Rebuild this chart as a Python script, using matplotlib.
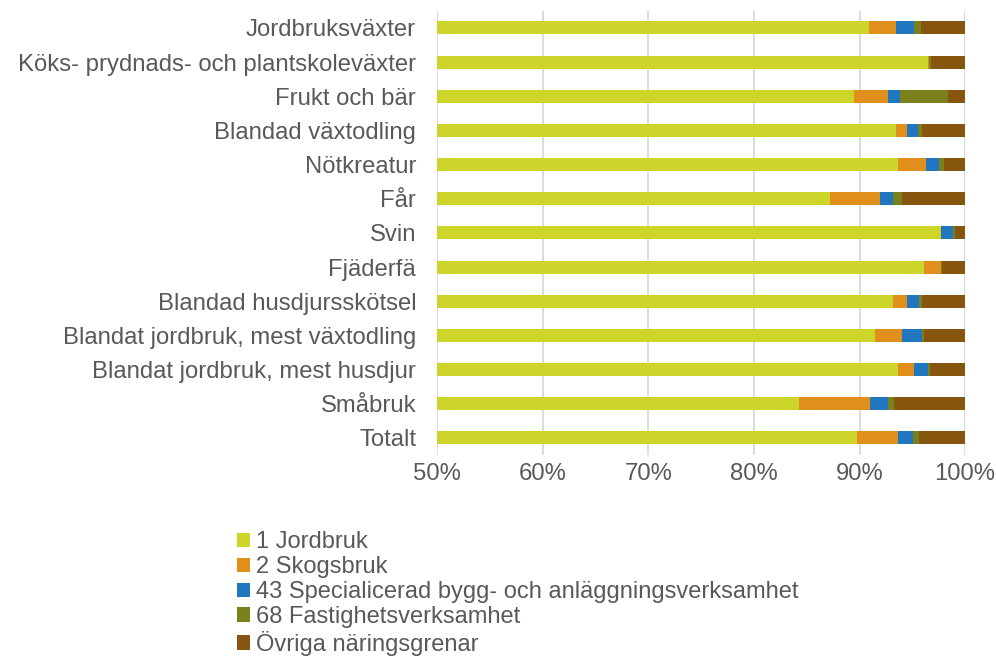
import numpy as np
import matplotlib
matplotlib.use("Agg")
import matplotlib.pyplot as plt
from matplotlib.patches import Patch

plt.rcParams["font.family"] = ["Liberation Sans", "DejaVu Sans"]

categories = ["Jordbruksväxter", "Köks- prydnads- och plantskoleväxter", "Frukt och bär",
              "Blandad växtodling", "Nötkreatur", "Får", "Svin", "Fjäderfä",
              "Blandad husdjursskötsel", "Blandat jordbruk, mest växtodling",
              "Blandat jordbruk, mest husdjur", "Småbruk", "Totalt"]
series_names = ["1 Jordbruk", "2 Skogsbruk", "43 Specialicerad bygg- och anläggningsverksamhet",
                "68 Fastighetsverksamhet", "Övriga näringsgrenar"]

jordbruk = [90.9, 96.5, 89.5, 93.5, 93.6, 87.2, 97.7, 96.1, 93.2, 91.5, 93.6, 84.3, 89.8]
skogsbruk = [2.6, 0.05, 3.2, 1.0, 2.7, 4.7, 0.05, 1.6, 1.3, 2.5, 1.6, 6.7, 3.8]
bygg = [1.7, 0.05, 1.1, 1.0, 1.2, 1.3, 1.1, 0.05, 1.1, 1.9, 1.3, 1.7, 1.5]
fastighet = [0.6, 0.2, 4.6, 0.4, 0.5, 0.8, 0.2, 0.05, 0.3, 0.2, 0.2, 0.6, 0.5]
ovriga = [4.2, 3.2, 1.6, 4.1, 2.0, 6.0, 1.0, 2.2, 4.1, 3.9, 3.3, 6.7, 4.4]

colors = ["#CDD42A", "#E08F1C", "#2176C0", "#7A811C", "#86550E"]
text_color = "#595959"

fig = plt.figure(figsize=(9.96, 6.61), dpi=100)
ax = fig.add_axes([0.4388, 0.3116, 0.5302, 0.672])

y = np.arange(len(categories))
left = np.zeros(len(categories))
for vals, col, name in zip([jordbruk, skogsbruk, bygg, fastighet, ovriga], colors, series_names):
    v = np.array(vals)
    ax.barh(y, v, left=left, height=0.38, color=col, label=name, zorder=3)
    left += v

ax.set_xlim(50, 100)
ax.set_ylim(len(categories) - 0.5, -0.5)
ax.set_xticks([50, 60, 70, 80, 90, 100])
ax.set_xticklabels([f"{t}%" for t in [50, 60, 70, 80, 90, 100]])
ax.set_yticks(y)
ax.set_yticklabels(categories)
ax.tick_params(axis="both", length=0, labelsize=17.2, colors=text_color)
ax.tick_params(axis="x", pad=6)
ax.tick_params(axis="y", pad=15)
ax.grid(axis="x", color="#d9d9d9", linewidth=1.3, zorder=0)
for s in ax.spines.values():
    s.set_visible(False)

# legend under the plot, squeezed a bit so the last entry stays inside
handles = [Patch(facecolor=c, edgecolor="none") for c in colors]
leg = fig.legend(handles, series_names, loc="upper left", bbox_to_anchor=(0.238, 0.196),
                 frameon=False, fontsize=17, handlelength=0.55, handleheight=0.55,
                 handletextpad=0.25, labelspacing=0.12, borderpad=0, borderaxespad=0)
for t in leg.get_texts():
    t.set_color(text_color)

fig.savefig("out.png", dpi=100)
